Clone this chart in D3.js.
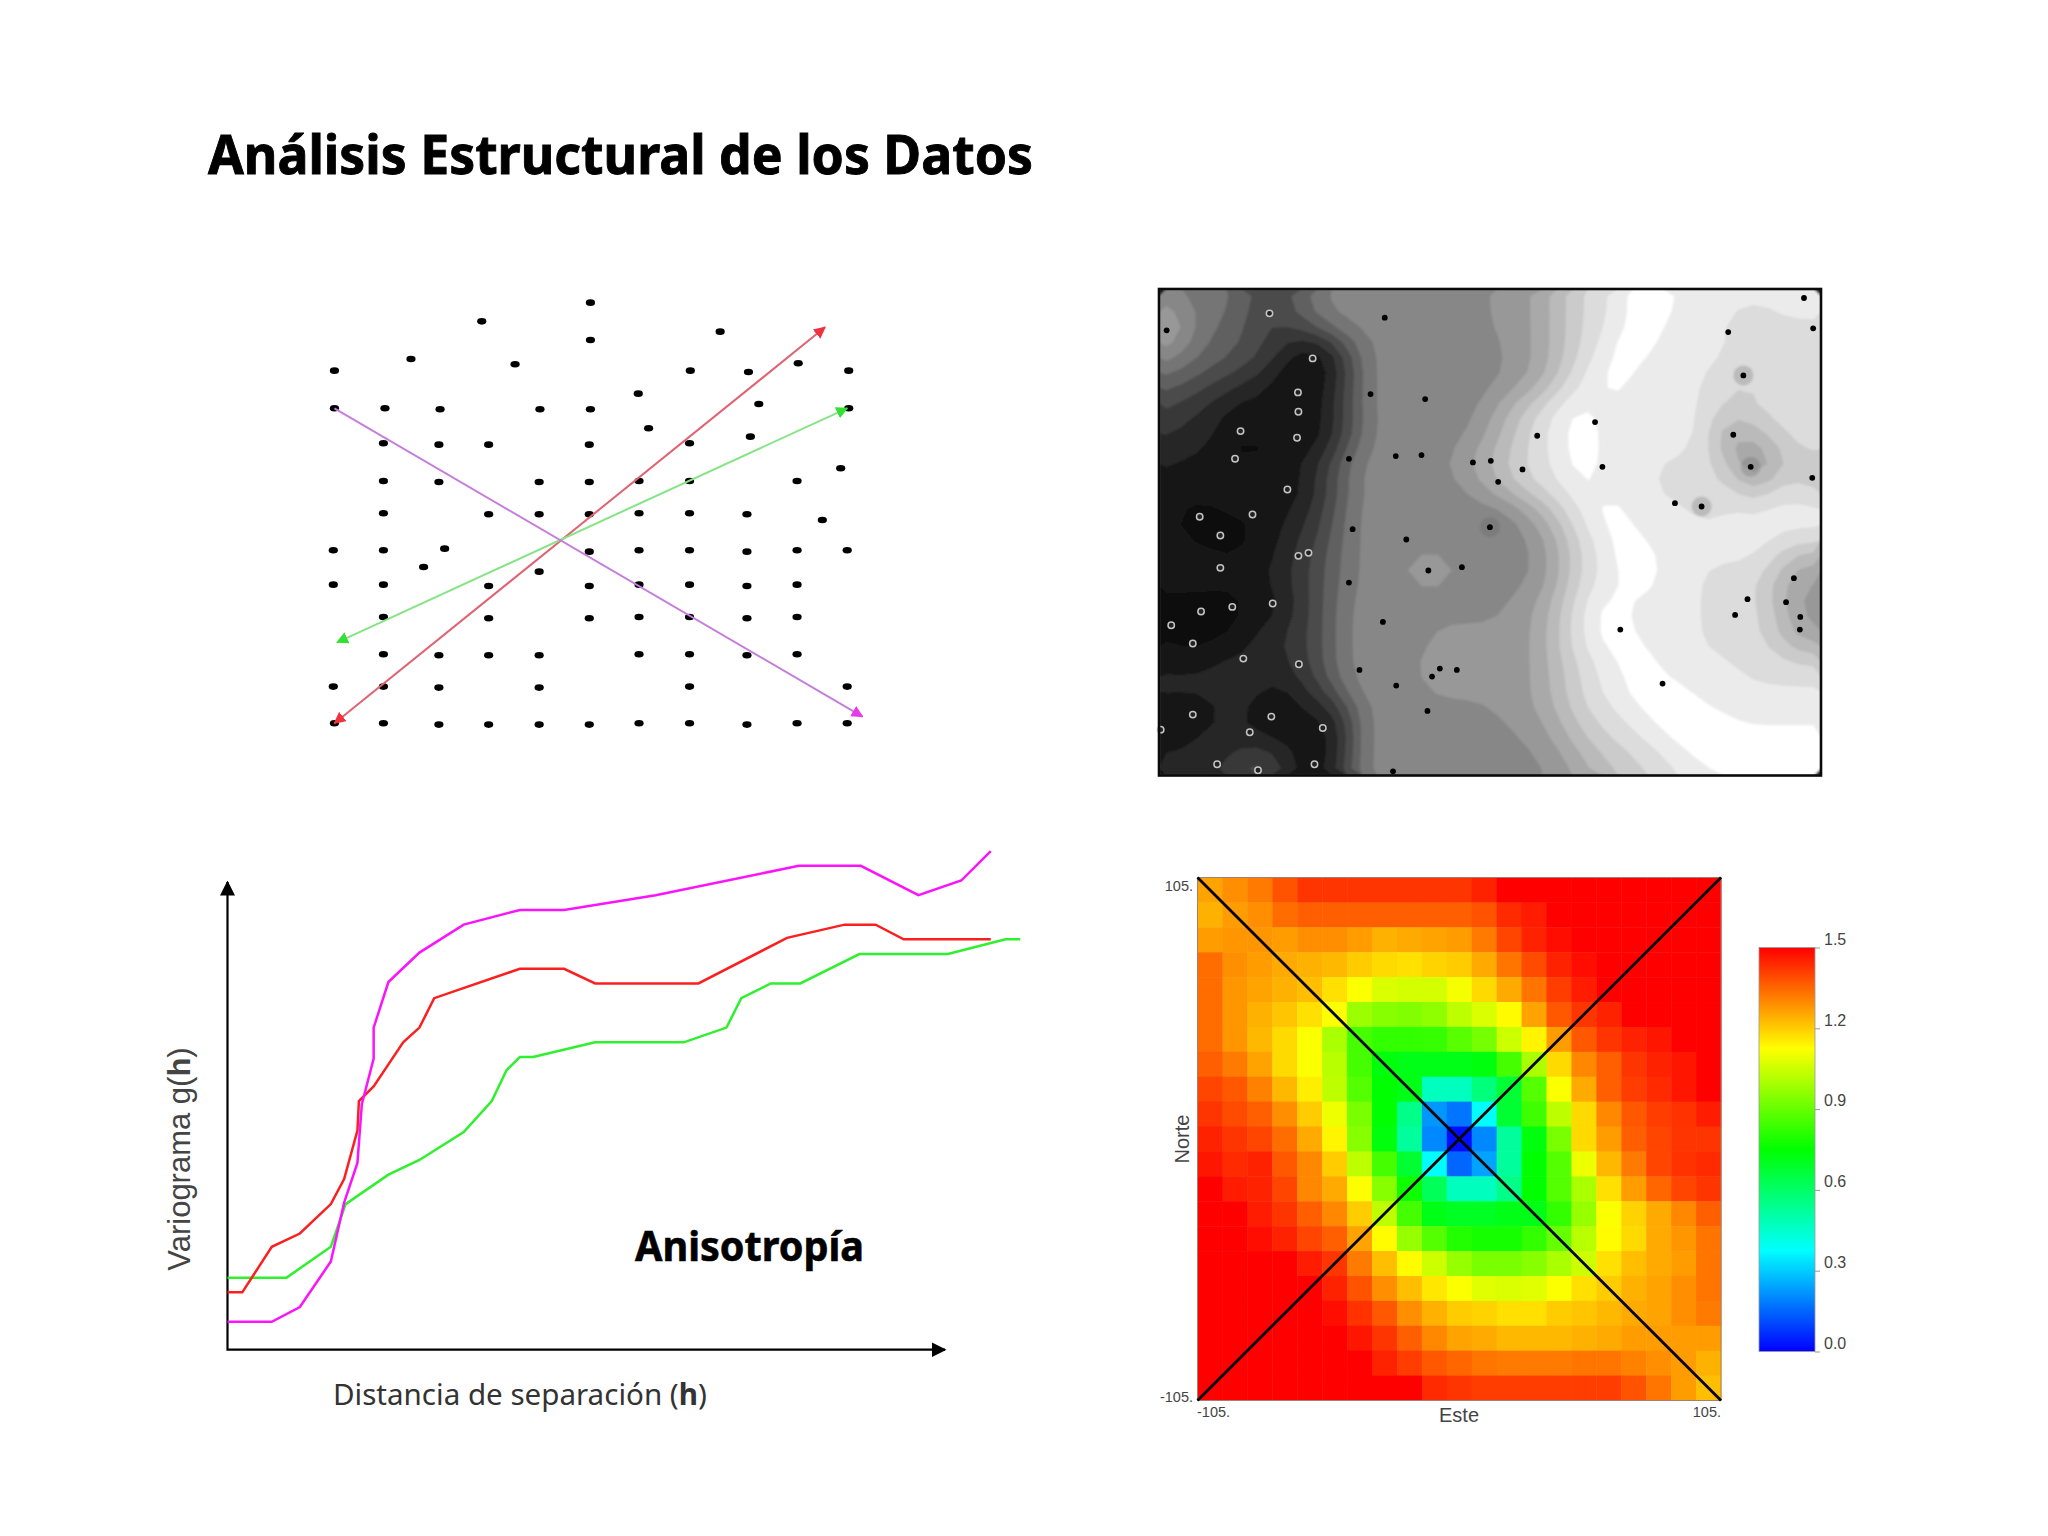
<!DOCTYPE html>
<html>
<head>
<meta charset="utf-8">
<script src="https://cdn.jsdelivr.net/npm/d3@7"></script>
<style>
  body { margin: 0; background: #fff; }
  svg { display: block; }
</style>
</head>
<body>
<svg id="chart" width="2048" height="1536"></svg>
<script>
// sample locations (0-1568 grid units)
const samplePoints = [
  [759,68],[475,124],[1098,155],[759,180],[290,237],[562,253],[90,272],[1020,272],[1172,276],[1302,250],[1434,272],
  [884,341],[90,385],[222,385],[366,388],[627,388],[759,388],[1199,372],[1434,385],
  [911,445],[218,490],[363,494],[493,494],[756,494],[1018,490],[1177,470],
  [218,603],[363,606],[625,606],[756,606],[886,603],[1018,603],[1299,603],[1413,565],
  [218,700],[493,703],[625,703],[756,703],[886,700],[1018,700],[1168,703],[1365,720],
  [87,811],[218,811],[378,806],[756,815],[886,811],[1018,811],[1168,815],[1299,811],[1430,811],
  [323,861],[625,875],
  [87,914],[218,914],[493,918],[756,918],[886,914],[1018,914],[1168,918],[1299,914],
  [218,1011],[493,1015],[756,1015],[886,1011],[1018,1011],[1168,1015],[1299,1011],
  [218,1123],[363,1126],[493,1126],[625,1126],[886,1123],[1018,1123],[1168,1126],[1299,1123],
  [87,1220],[218,1220],[363,1223],[625,1223],[1018,1220],[1430,1220],
  [90,1330],[218,1330],[363,1334],[493,1334],[625,1334],[756,1334],[886,1330],[1018,1330],[1168,1334],[1299,1330],[1430,1330]
];
const directions = [
  { line: "#df6472", head: "#f0303f", from: [90,1330], to: [1372,142], both: true },
  { line: "#86e486", head: "#35e035", from: [97,1087], to: [1430,385], both: true },
  { line: "#c47fdc", head: "#e83ae8", from: [90,385], to: [1470,1310], both: false }
];

// gray level of the contour map, one hex digit per cell
const mapRows = [
  "66666544456 77777777777 8889abccdee edddddddddd",
  "98666543456 77777777777 8889abccdee eddddcccddd",
  "a8665443456 77777777777 8889abccdee ddddccccccc",
  "97655543211 25677777777 7889abcdeee dddddcccccc",
  "76655443200 14677777777 7889abcdeed dddddcccccc",
  "65544332100 13677777777 7889acdeedd dddccbbcccc",
  "54433221001 24677777777 7889bcdeedd dddccbbcccc",
  "43322111001 24677777777 9abcdeddddd dddcccccccc",
  "33221012101 24677777778 9abcdeedddd dddcaabcccc",
  "32221001101 23577777778 9acddeedddd dddc99abccc",
  "22211001101 25777777789 abbcdeedddd dddc9889bcc",
  "21111001223 46777777899 abccdeedddd ccccc978abb",
  "11111111013 46777777789 abccddedddd ccccca8acb9",
  "11111111012 35777777778 9abccdedddd cccbdcacddc",
  "10001101223 56777777777 7789bcdeedd dddaddddddd",
  "10000010223 46777777776 5789acdeedd ddddddddddd",
  "11000011233 56777777777 77789bcdeed ddddddddddd",
  "11111011234 56777777777 77789bcdeee dddddddca99",
  "11110112234 567778aa877 77789bcddee dddcccccb99",
  "11111112334 56777777777 77789bcddee dddcccca988",
  "00000010134 57777777777 7889acdeedd dddccccb988",
  "00000011234 57777777777 7889acdeedd dddcccccb88",
  "00000122334 57777778888 8889acdeedd dddccccb988",
  "10001122334 57777778888 8889bcdeeed dddcccccba9",
  "11122222234 57777788888 8889abcddee dddddcccccc",
  "22222222234 57777788888 8889abcddee ddddddccccc",
  "22222221123 47777778888 8889abcddee eeddddddddd",
  "11012210022 23777777777 8889abccdde eeedddddddd",
  "00112210111 13777777777 78889abccdd eeeeedddddd",
  "01222111110 13777777777 77889abbccd deeeeeeeeee",
  "22222343210 13777777777 777889abbcc ddeeeeeeeee",
  "22223454210 24777777777 7777889aabb ccdddeeeeee"
];
const mapGrays = ["#070707","#151515","#262626","#383838","#4c4c4c","#606060","#747474","#878787",
  "#989898","#a9a9a9","#bababa","#cbcbcb","#dcdcdc","#ebebeb","#ffffff"];
const ringedWells = [
  [282,130],[376,265],[344,367],[345,425],[342,503],[219,483],[207,566],[321,658],[130,740],[245,733],
  [175,796],[367,848],[345,857],[175,893],[289,1000],[201,1010],[133,1024],[68,1065],[115,1120],[225,1165],
  [346,1182],[115,1333],[286,1339],[398,1373],[239,1386],[168,1482],[257,1500],[380,1482],[45,1378]
];
const blackWells = [
  [58,181],[533,143],[502,372],[621,387],[455,566],[557,558],[613,555],[725,577],[764,572],[833,598],
  [780,635],[865,497],[991,456],[1007,590],[1165,699],[1223,709],[1292,494],[1330,590],[1464,623],[1314,316],
  [1281,186],[1466,175],[1446,84],[762,771],[463,777],[580,808],[628,901],[701,891],[455,937],[529,1055],
  [478,1199],[653,1195],[690,1199],[636,1219],[558,1246],[626,1322],[551,1503],[1046,1078],[1138,1240],[1424,924],
  [1323,987],[1407,996],[1296,1034],[1438,1040],[1437,1078]
];
// wells sitting in a small darker patch of their own
const haloWells = [[1223,709],[762,771],[1314,316],[1330,590]];

// experimental variograms: h, gamma(h)
const variogramMagenta = [
  [0,1.9],[3,1.9],[4.9,2.9],[7,6],[7.9,10],[8.8,12.7],[9.1,16.7],[9.9,19.8],[9.9,21.9],[10.9,25],
  [13,27],[16,28.9],[19.8,29.9],[22.8,29.9],[29,30.9],[38.7,32.9],[42.9,32.9],[46.8,30.9],[49.7,31.9],[51.7,33.9]
];
const variogramRed = [
  [0,3.9],[1,3.9],[3,7],[4.9,7.9],[7,9.9],[7.9,11.6],[8.8,14.9],[8.9,16.9],[9.9,17.9],[10.9,19.4],
  [11.9,20.9],[13,21.9],[14,23.9],[19.8,25.9],[22.8,25.9],[24.9,24.9],[31.9,24.9],[37.9,28],[41.8,28.9],[43.9,28.9],
  [45.8,27.9],[51.7,27.9]
];
const variogramGreen = [
  [0,4.9],[4,4.9],[7,7],[8,9.9],[10.9,11.9],[13,12.9],[16,14.8],[17.9,16.9],[18.9,19],[19.8,19.9],
  [20.7,19.9],[24.9,20.9],[30.9,20.9],[33.8,21.9],[34.8,23.9],[36.8,24.9],[38.8,24.9],[42.8,26.9],[48.8,26.9],[52.7,27.9],
  [53.7,27.9]
];

// experimental variogram map, north (top) to south, west to east
const vmapRows = [
  [1.26,1.29,1.32,1.38,1.42,1.42,1.42,1.42,1.42,1.42,1.42,1.45,1.5,1.5,1.5,1.5,1.5,1.5,1.5,1.5,1.5],
  [1.24,1.27,1.29,1.34,1.36,1.36,1.36,1.36,1.36,1.36,1.36,1.38,1.44,1.46,1.5,1.5,1.5,1.5,1.5,1.5,1.5],
  [1.27,1.28,1.28,1.27,1.29,1.29,1.27,1.24,1.25,1.26,1.27,1.32,1.4,1.45,1.48,1.5,1.5,1.5,1.5,1.5,1.5],
  [1.34,1.29,1.27,1.25,1.24,1.23,1.2,1.18,1.17,1.19,1.2,1.25,1.33,1.39,1.45,1.48,1.5,1.5,1.5,1.5,1.5],
  [1.34,1.28,1.26,1.24,1.22,1.17,1.12,1.07,1.06,1.06,1.11,1.18,1.25,1.33,1.41,1.46,1.5,1.5,1.5,1.5,1.5],
  [1.34,1.28,1.24,1.21,1.17,1.12,0.98,0.95,0.94,0.96,1.03,1.07,1.13,1.26,1.37,1.42,1.45,1.5,1.5,1.5,1.5],
  [1.34,1.28,1.23,1.18,1.12,1,0.85,0.82,0.82,0.83,0.88,0.92,1.05,1.14,1.27,1.37,1.42,1.45,1.47,1.5,1.5],
  [1.36,1.32,1.26,1.18,1.12,1.02,0.85,0.74,0.72,0.72,0.72,0.73,0.85,1,1.18,1.3,1.36,1.42,1.45,1.47,1.5],
  [1.4,1.37,1.31,1.23,1.15,1.03,0.87,0.75,0.72,0.47,0.47,0.57,0.67,0.87,1.12,1.25,1.36,1.41,1.44,1.47,1.5],
  [1.42,1.39,1.36,1.29,1.2,1.1,0.93,0.75,0.55,0.22,0.17,0.38,0.68,0.84,1.03,1.18,1.3,1.37,1.41,1.43,1.46],
  [1.45,1.42,1.4,1.34,1.25,1.14,0.95,0.73,0.52,0.2,0.02,0.2,0.52,0.73,0.93,1.18,1.27,1.36,1.4,1.42,1.42],
  [1.47,1.44,1.45,1.37,1.3,1.2,1.03,0.85,0.68,0.38,0.15,0.24,0.52,0.75,0.87,1.1,1.23,1.32,1.4,1.43,1.44],
  [1.5,1.46,1.45,1.4,1.3,1.25,1.12,0.95,0.76,0.62,0.47,0.47,0.55,0.75,0.87,1,1.17,1.27,1.35,1.4,1.42],
  [1.5,1.5,1.46,1.42,1.36,1.3,1.2,1.03,0.85,0.72,0.7,0.7,0.72,0.72,0.82,0.97,1.12,1.19,1.25,1.3,1.36],
  [1.5,1.5,1.48,1.45,1.4,1.36,1.26,1.13,0.97,0.87,0.8,0.78,0.78,0.82,0.9,1.02,1.13,1.18,1.25,1.28,1.33],
  [1.5,1.5,1.5,1.5,1.46,1.42,1.32,1.22,1.13,1.05,0.97,0.93,0.93,0.95,1,1.05,1.17,1.22,1.25,1.27,1.33],
  [1.5,1.5,1.5,1.5,1.5,1.45,1.38,1.29,1.22,1.16,1.12,1.08,1.07,1.08,1.12,1.17,1.2,1.24,1.26,1.29,1.33],
  [1.5,1.5,1.5,1.5,1.5,1.48,1.43,1.37,1.29,1.24,1.2,1.19,1.17,1.17,1.2,1.21,1.23,1.25,1.26,1.29,1.32],
  [1.5,1.5,1.5,1.5,1.5,1.5,1.47,1.42,1.36,1.3,1.26,1.25,1.23,1.23,1.23,1.24,1.25,1.27,1.27,1.27,1.27],
  [1.5,1.5,1.5,1.5,1.5,1.5,1.5,1.45,1.41,1.37,1.35,1.33,1.32,1.32,1.32,1.33,1.33,1.31,1.29,1.27,1.24],
  [1.5,1.5,1.5,1.5,1.5,1.5,1.5,1.5,1.5,1.44,1.42,1.41,1.41,1.41,1.41,1.41,1.41,1.38,1.33,1.27,1.22]
];
const vmapExtent = [-105, 105];
const colorTicks = [0, 0.3, 0.6, 0.9, 1.2, 1.5];
const colorStops = [0, 0.375, 0.75, 1.125, 1.5];
const colorRange = ["#0000ff", "#00ffff", "#00ff00", "#ffff00", "#ff0000"];

const svg = d3.select("#chart");
const defs = svg.append("defs");
const soft = defs.append("filter").attr("id", "soft");
soft.append("feGaussianBlur").attr("stdDeviation", 0.7);
const softer = defs.append("filter").attr("id", "softer")
  .attr("x", 0).attr("y", 0).attr("width", 1).attr("height", 1);
softer.append("feGaussianBlur").attr("stdDeviation", 1);

const addHead = (id, color, size) => {
  defs.append("marker")
    .attr("id", id)
    .attr("viewBox", "0 0 10 10")
    .attr("refX", 9).attr("refY", 5)
    .attr("markerUnits", "userSpaceOnUse")
    .attr("markerWidth", size).attr("markerHeight", size)
    .attr("orient", "auto-start-reverse")
    .append("path")
    .attr("d", "M0,0 L10,5 L0,10 Z")
    .attr("fill", color);
};

svg.append("text")
  .attr("x", 208).attr("y", 174)
  .attr("font-family", "'Noto Sans', sans-serif")
  .attr("font-weight", 700).attr("font-size", 54)
  .attr("stroke", "#000").attr("stroke-width", 0.9)
  .attr("textLength", 825).attr("lengthAdjust", "spacingAndGlyphs")
  .text("Análisis Estructural de los Datos");

// --- sample locations with the three directions
const scatterX = d3.scaleLinear().domain([0, 1568]).range([300, 900]);
const scatterY = d3.scaleLinear().domain([0, 1568]).range([280, 802.6]);
const scatter = svg.append("g").attr("filter", "url(#soft)");

scatter.selectAll("ellipse")
  .data(samplePoints)
  .join("ellipse")
  .attr("cx", d => scatterX(d[0]))
  .attr("cy", d => scatterY(d[1]))
  .attr("rx", 4.6).attr("ry", 3.3)
  .attr("fill", "#000");

directions.forEach((d, i) => {
  addHead("dir" + i, d.head, 12);
  scatter.append("line")
    .attr("x1", scatterX(d.from[0])).attr("y1", scatterY(d.from[1]))
    .attr("x2", scatterX(d.to[0])).attr("y2", scatterY(d.to[1]))
    .attr("stroke", d.line)
    .attr("stroke-width", 2)
    .attr("marker-end", `url(#dir${i})`)
    .attr("marker-start", d.both ? `url(#dir${i})` : null);
});

// --- gray contour map
const mapFrame = { left: 1159, right: 1821, top: 289, bottom: 775.5 };
const gridValues = mapRows.map(r => r.replace(/ /g, "")).join("").split("").map(c => parseInt(c, 16));
const gridW = mapRows[0].replace(/ /g, "").length;
const gridH = mapRows.length;
const gridX = d3.scaleLinear().domain([0, gridW]).range([mapFrame.left, mapFrame.right]);
const gridY = d3.scaleLinear().domain([0, gridH]).range([mapFrame.top, mapFrame.bottom]);
const wellX = d3.scaleLinear().domain([0, 1568]).range([1140, 1860]);
const wellY = d3.scaleLinear().domain([0, 1568]).range([270, 793]);

// takes the stair steps out of the coarse grid before contouring
if (d3.blur2) d3.blur2({ data: gridValues, width: gridW, height: gridH }, 0.3);

// the last threshold sits a bit low so the narrow white band stays unbroken
const mapThresholds = d3.range(1, mapGrays.length).map(t => t - 0.5);
mapThresholds[mapThresholds.length - 1] = 13.38;

const contours = d3.contours()
  .size([gridW, gridH])
  .thresholds(mapThresholds)(gridValues);
const contourPath = d3.geoPath(d3.geoTransform({
  point(x, y) { this.stream.point(gridX(x), gridY(y)); }
}));

const grayMap = svg.append("g").attr("filter", "url(#softer)");
grayMap.append("rect")
  .attr("x", mapFrame.left).attr("y", mapFrame.top)
  .attr("width", mapFrame.right - mapFrame.left)
  .attr("height", mapFrame.bottom - mapFrame.top)
  .attr("fill", mapGrays[0]);
grayMap.selectAll("path")
  .data(contours)
  .join("path")
  .attr("d", contourPath)
  .attr("fill", (d, i) => mapGrays[i + 1]);
grayMap.selectAll("circle")
  .data(haloWells)
  .join("circle")
  .attr("cx", d => wellX(d[0]))
  .attr("cy", d => wellY(d[1]))
  .attr("r", 10)
  .attr("fill", "#5c5c5c")
  .attr("fill-opacity", 0.26);

const wells = svg.append("g").attr("filter", "url(#soft)");
wells.selectAll(".ring")
  .data(ringedWells)
  .join("circle")
  .attr("class", "ring")
  .attr("cx", d => wellX(d[0]))
  .attr("cy", d => wellY(d[1]))
  .attr("r", 3.2)
  .attr("fill", "#222")
  .attr("stroke", "#c4c4c4")
  .attr("stroke-width", 1.5);
wells.selectAll(".dot")
  .data(blackWells)
  .join("circle")
  .attr("class", "dot")
  .attr("cx", d => wellX(d[0]))
  .attr("cy", d => wellY(d[1]))
  .attr("r", 2.9)
  .attr("fill", "#000");

svg.append("rect")
  .attr("x", mapFrame.left).attr("y", mapFrame.top)
  .attr("width", mapFrame.right - mapFrame.left)
  .attr("height", mapFrame.bottom - mapFrame.top)
  .attr("fill", "none")
  .attr("stroke", "#0a0a0a")
  .attr("stroke-width", 2.6);

// --- variogram curves
const hScale = d3.scaleLinear().domain([0, 48.6]).range([227.5, 945]);
const gScale = d3.scaleLinear().domain([0, 31.8]).range([1349.7, 882]);
const curve = d3.line().x(d => hScale(d[0])).y(d => gScale(d[1]));

addHead("axisHead", "#000", 15);
svg.append("path")
  .attr("d", curve([[0, 31.8], [0, 0], [48.6, 0]]))
  .attr("fill", "none")
  .attr("stroke", "#000")
  .attr("stroke-width", 2.2)
  .attr("marker-start", "url(#axisHead)")
  .attr("marker-end", "url(#axisHead)");

[[variogramGreen, "#2fef2f"], [variogramRed, "#fb1f1f"], [variogramMagenta, "#fb14fb"]].forEach(([values, color]) => {
  svg.append("path")
    .attr("d", curve(values))
    .attr("fill", "none")
    .attr("stroke", color)
    .attr("stroke-width", 2.5);
});

const yTitle = svg.append("text")
  .attr("transform", "translate(190,1159) rotate(-90)")
  .attr("text-anchor", "middle")
  .attr("font-family", "'Liberation Sans', sans-serif")
  .attr("font-size", 31)
  .attr("fill", "#444");
yTitle.append("tspan").text("Variograma g(");
yTitle.append("tspan").attr("font-weight", 700).text("h");
yTitle.append("tspan").text(")");

const xTitle = svg.append("text")
  .attr("transform", "translate(333,1405)")
  .attr("font-family", "'Noto Sans', sans-serif")
  .attr("font-size", 30)
  .attr("fill", "#333");
xTitle.append("tspan").text("Distancia de separación (");
xTitle.append("tspan").attr("font-weight", 700).text("h");
xTitle.append("tspan").text(")");
xTitle.attr("transform", `translate(333,1405) scale(${374 / xTitle.node().getComputedTextLength()},1)`);

svg.append("text")
  .attr("x", 635).attr("y", 1261)
  .attr("font-family", "'Noto Sans', sans-serif")
  .attr("font-weight", 700).attr("font-size", 41)
  .attr("stroke", "#000").attr("stroke-width", 0.6)
  .attr("textLength", 229).attr("lengthAdjust", "spacingAndGlyphs")
  .text("Anisotropía");

// --- variogram map and its color bar
const vmapX = d3.scaleLinear().domain(vmapExtent).range([1197.5, 1721]);
const vmapY = d3.scaleLinear().domain(vmapExtent).range([1400.5, 877.5]);
const colBand = d3.scaleBand().domain(d3.range(21)).range(vmapX.range());
const rowBand = d3.scaleBand().domain(d3.range(21)).range([vmapY(105), vmapY(-105)]);
const heat = d3.scaleLinear().domain(colorStops).range(colorRange).clamp(true);

const vmap = svg.append("g").attr("filter", "url(#soft)");
vmap.selectAll("g")
  .data(vmapRows)
  .join("g")
  .selectAll("rect")
  .data((row, r) => row.map((v, c) => ({ v, r, c })))
  .join("rect")
  .attr("x", d => colBand(d.c))
  .attr("y", d => rowBand(d.r))
  .attr("width", colBand.bandwidth() + 0.5)
  .attr("height", rowBand.bandwidth() + 0.5)
  .attr("fill", d => heat(d.v));

svg.append("rect")
  .attr("x", vmapX(-105)).attr("y", vmapY(105))
  .attr("width", vmapX(105) - vmapX(-105))
  .attr("height", vmapY(-105) - vmapY(105))
  .attr("fill", "none")
  .attr("stroke", "#a08070")
  .attr("stroke-width", 1);

[[[-105, 105], [105, -105]], [[-105, -105], [105, 105]]].forEach(([a, b]) => {
  svg.append("line")
    .attr("x1", vmapX(a[0])).attr("y1", vmapY(a[1]))
    .attr("x2", vmapX(b[0])).attr("y2", vmapY(b[1]))
    .attr("stroke", "#050505")
    .attr("stroke-width", 2.8);
});

const smallText = (x, y, anchor, label) => svg.append("text")
  .attr("x", x).attr("y", y)
  .attr("text-anchor", anchor)
  .attr("font-family", "'Liberation Sans', sans-serif")
  .attr("font-size", 14.5)
  .attr("fill", "#444")
  .text(label);
smallText(1193, 891, "end", "105.");
smallText(1193, 1402, "end", "-105.");
smallText(1197, 1417, "start", "-105.");
smallText(1721, 1417, "end", "105.");

svg.append("text")
  .attr("x", 1459).attr("y", 1422)
  .attr("text-anchor", "middle")
  .attr("font-family", "'Liberation Sans', sans-serif")
  .attr("font-size", 20)
  .attr("fill", "#444")
  .text("Este");
svg.append("text")
  .attr("transform", "translate(1189,1139) rotate(-90)")
  .attr("text-anchor", "middle")
  .attr("font-family", "'Liberation Sans', sans-serif")
  .attr("font-size", 20)
  .attr("fill", "#444")
  .text("Norte");

const barY = d3.scaleLinear().domain([0, 1.5]).range([1351.5, 947.5]);
const barGradient = defs.append("linearGradient")
  .attr("id", "barGradient")
  .attr("x1", 0).attr("y1", 1).attr("x2", 0).attr("y2", 0);
barGradient.selectAll("stop")
  .data(colorStops)
  .join("stop")
  .attr("offset", d => d / 1.5)
  .attr("stop-color", d => heat(d));
svg.append("rect")
  .attr("x", 1759).attr("y", barY(1.5))
  .attr("width", 56)
  .attr("height", barY(0) - barY(1.5))
  .attr("fill", "url(#barGradient)")
  .attr("stroke", "#999")
  .attr("stroke-width", 0.8);

const barAxis = svg.append("g")
  .attr("transform", "translate(1815,0)")
  .call(d3.axisRight(barY).tickValues(colorTicks).tickFormat(d3.format(".1f")).tickSize(5));
barAxis.select(".domain").remove();
barAxis.selectAll("line").attr("stroke", "#999");
barAxis.selectAll("text")
  .attr("x", 9).attr("dy", "-0.2em")
  .attr("font-family", "'Liberation Sans', sans-serif")
  .attr("font-size", 16)
  .attr("fill", "#444");
</script>
</body>
</html>
